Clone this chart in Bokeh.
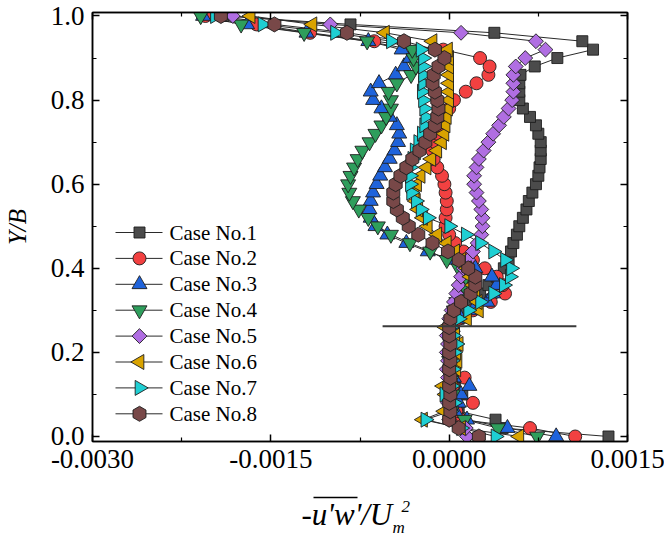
import math
from bokeh.plotting import figure
from bokeh.layouts import column
from bokeh.models import (Range1d, LinearAxis, FixedTicker, PrintfTickFormatter, ColumnDataSource)
from bokeh.core.properties import value
from bokeh.embed import file_html
from bokeh.resources import INLINE

# ---------------- data ----------------
Y = [0.00, 0.02, 0.04, 0.06, 0.08, 0.10, 0.12, 0.14, 0.16, 0.18,
     0.20, 0.22, 0.24, 0.26, 0.28, 0.30, 0.32, 0.34, 0.36, 0.38,
     0.40, 0.42, 0.44, 0.46, 0.48, 0.50, 0.52, 0.54, 0.56, 0.58,
     0.60, 0.62, 0.64, 0.66, 0.68, 0.70, 0.72, 0.74, 0.76, 0.78,
     0.80, 0.82, 0.84, 0.86, 0.88, 0.90, 0.92, 0.94, 0.96, 0.98, 1.00]

case1 = [0.00134, 0.00045, 0.00039, 0.00008, 0.00006, 0.00011, 0.00005, 0.00004, 0.00003, 0.00003,
         0.00002, 0.00002, 0.00003, 0.00004, 0.00008, 0.00013, 0.00019, 0.00026, 0.00033, 0.00040,
         0.00046, 0.00050, 0.00052, 0.00054, 0.00057, 0.00059, 0.00062, 0.00065, 0.00067, 0.00070,
         0.00073, 0.00075, 0.00076, 0.00077, 0.00077, 0.00077, 0.00075, 0.00073, 0.00068, 0.00062,
         0.00059, 0.00059, 0.00059, 0.00060, 0.00072, 0.00091, 0.00121, 0.00112, 0.00038, -0.00083, -0.00190]
case2 = [0.00106, 0.00068, 0.00010, 0.00006, 0.00020, 0.00004, 0.00003, 0.00013, 0.00002, 0.00002,
         0.00001, 0.00001, 0.00002, 0.00003, 0.00008, 0.00020, 0.00035, 0.00047, 0.00045, 0.00040,
         0.00030, 0.00020, 0.00012, 0.00005, 0.00000, -0.00003, -0.00003, -0.00002, -0.00002, -0.00003,
         -0.00004, -0.00006, -0.00010, -0.00013, -0.00014, -0.00012, -0.00010, -0.00007, -0.00004, 0.00000,
         0.00004, 0.00014, 0.00023, 0.00033, 0.00034, 0.00026, -0.00005, -0.00063, -0.00117, -0.00162, -0.00205]
case3 = [0.00090, 0.00049, 0.00015, 0.00005, 0.00008, 0.00010, 0.00017, 0.00004, 0.00002, 0.00001,
         0.00001, 0.00002, 0.00002, 0.00003, 0.00010, 0.00020, 0.00032, 0.00037, 0.00040, 0.00036,
         0.00022, 0.00002, -0.00018, -0.00036, -0.00052, -0.00062, -0.00066, -0.00067, -0.00066, -0.00064,
         -0.00061, -0.00058, -0.00054, -0.00050, -0.00046, -0.00043, -0.00042, -0.00044, -0.00050, -0.00057,
         -0.00064, -0.00066, -0.00059, -0.00045, -0.00038, -0.00033, -0.00040, -0.00068, -0.00120, -0.00170, -0.00207]
case4 = [0.00074, 0.00041, 0.00013, 0.00002, -0.00001, 0.00003, 0.00001, 0.00002, 0.00001, 0.00000,
         0.00002, 0.00001, 0.00002, 0.00001, 0.00003, 0.00004, 0.00006, 0.00009, 0.00012, 0.00014,
         0.00008, -0.00002, -0.00016, -0.00033, -0.00049, -0.00060, -0.00068, -0.00076, -0.00081, -0.00084,
         -0.00085, -0.00083, -0.00080, -0.00077, -0.00073, -0.00067, -0.00062, -0.00057, -0.00053, -0.00049,
         -0.00049, -0.00051, -0.00044, -0.00032, -0.00028, -0.00030, -0.00031, -0.00069, -0.00122, -0.00175, -0.00209]
case5 = [0.00015, 0.00014, 0.00000, -0.00002, -0.00001, -0.00003, -0.00002, -0.00001, -0.00002, -0.00001,
         -0.00002, -0.00001, -0.00002, -0.00001, 0.00000, 0.00002, 0.00004, 0.00006, 0.00008, 0.00010,
         0.00012, 0.00016, 0.00020, 0.00024, 0.00027, 0.00028, 0.00028, 0.00027, 0.00025, 0.00023,
         0.00021, 0.00021, 0.00023, 0.00025, 0.00029, 0.00033, 0.00037, 0.00042, 0.00046, 0.00050,
         0.00053, 0.00054, 0.00054, 0.00054, 0.00056, 0.00064, 0.00081, 0.00073, 0.00010, -0.00100, -0.00182]
case6 = [0.00059, 0.00010, -0.00022, -0.00004, 0.00002, -0.00003, -0.00005, 0.00003, 0.00006, 0.00007,
         0.00006, 0.00008, 0.00005, -0.00003, 0.00015, 0.00025, 0.00024, 0.00022, 0.00020, 0.00018,
         0.00015, 0.00010, 0.00005, -0.00002, -0.00010, -0.00018, -0.00022, -0.00026, -0.00028, -0.00029,
         -0.00027, -0.00024, -0.00019, -0.00015, -0.00010, -0.00006, -0.00004, -0.00003, -0.00002, -0.00001,
         0.00000, 0.00000, 0.00000, 0.00000, 0.00000, 0.00000, -0.00001, -0.00014, -0.00054, -0.00115, -0.00167]
case7 = [0.00039, 0.00010, -0.00020, 0.00001, 0.00004, -0.00004, 0.00002, 0.00001, 0.00003, 0.00002,
         0.00004, 0.00006, 0.00003, 0.00001, 0.00008, 0.00016, 0.00026, 0.00037, 0.00046, 0.00051,
         0.00052, 0.00047, 0.00037, 0.00026, 0.00014, 0.00000, -0.00018, -0.00024, -0.00028, -0.00032,
         -0.00033, -0.00033, -0.00033, -0.00031, -0.00029, -0.00026, -0.00023, -0.00021, -0.00020, -0.00021,
         -0.00022, -0.00023, -0.00022, -0.00022, -0.00022, -0.00022, -0.00024, -0.00049, -0.00096, -0.00157, -0.00197]
case8 = [0.00025, 0.00008, 0.00000, 0.00001, 0.00000, 0.00001, 0.00000, 0.00001, 0.00000, 0.00001,
         0.00000, 0.00001, 0.00000, 0.00000, 0.00001, 0.00004, 0.00010, 0.00018, 0.00022, 0.00022,
         0.00016, 0.00008, -0.00001, -0.00014, -0.00026, -0.00034, -0.00039, -0.00044, -0.00047, -0.00047,
         -0.00045, -0.00041, -0.00036, -0.00031, -0.00025, -0.00020, -0.00016, -0.00012, -0.00010, -0.00009,
         -0.00010, -0.00012, -0.00014, -0.00013, -0.00009, -0.00004, -0.00012, -0.00038, -0.00086, -0.00147, -0.00192]

labels = ["Case No.1", "Case No.2", "Case No.3", "Case No.4",
          "Case No.5", "Case No.6", "Case No.7", "Case No.8"]
series = [case1, case2, case3, case4, case5, case6, case7, case8]

ref_line_x = [-0.00056, 0.00107]
ref_line_y = [0.262, 0.262]

x_ticks = [-0.0030, -0.0015, 0.0, 0.0015]
x_minor = [-0.00225, -0.00075, 0.00075]
y_ticks = [0.0, 0.2, 0.4, 0.6, 0.8, 1.0]
y_minor = [0.1, 0.3, 0.5, 0.7, 0.9]

# ---------------- styles ----------------
colors = ["#4b4b4b", "#f24141", "#1f63db", "#2e9e5c", "#b06ee2", "#d9a300", "#1fcfd3", "#784848"]
markers = ["square", "circle", "triangle", "inverted_triangle", "square", "triangle", "triangle", "hex"]
angles = [0, 0, 0, 0, math.pi / 4, math.pi / 2, -math.pi / 2, math.pi / 2]
sizes = [11, 13, 15, 15, 10.5, 15, 15, 15]

FONT = "Liberation Serif"
BL, BR = 90, 39            # left / right borders
FW, FH = 535, 429          # frame size in px
TOP_H = 484                # height of main figure
BOT_H = 536 - TOP_H        # height of the x-title strip

p = figure(width=664, height=TOP_H, frame_width=FW, frame_height=FH,
           x_range=Range1d(-0.0030, 0.0015), y_range=Range1d(-0.0119, 1.0083),
           output_backend="svg", toolbar_location=None,
           min_border_left=BL, min_border_right=BR, min_border_top=12,
           min_border_bottom=TOP_H - 12 - FH)
p.background_fill_color = "white"
p.border_fill_color = "white"
p.outline_line_color = "black"
p.outline_line_width = 1.5
p.xgrid.visible = False
p.ygrid.visible = False
# pixel-space ranges for the in-frame legend
p.extra_x_ranges = {"px": Range1d(0, FW)}
p.extra_y_ranges = {"px": Range1d(0, FH)}


def style_axis(ax, ticks, minor, fmt, show_labels):
    ax.ticker = FixedTicker(ticks=ticks, minor_ticks=minor)
    ax.formatter = PrintfTickFormatter(format=fmt)
    ax.axis_line_color = "black"
    ax.axis_line_width = 1.5
    ax.major_tick_in = 7
    ax.major_tick_out = 0
    ax.minor_tick_in = 4
    ax.minor_tick_out = 0
    ax.major_tick_line_width = 1.5
    ax.minor_tick_line_width = 1.2
    ax.major_label_text_font = FONT
    if show_labels:
        ax.major_label_text_color = "black"
        ax.major_label_text_font_size = "27px"
        ax.major_label_standoff = 8
    else:
        ax.major_label_text_color = None
        ax.major_label_text_font_size = "1px"
        ax.major_label_standoff = 0


style_axis(p.xaxis[0], x_ticks, x_minor, "%.4f", True)
style_axis(p.yaxis[0], y_ticks, y_minor, "%.1f", True)
ya = p.yaxis[0]
ya.axis_label = "Y/B"
ya.axis_label_text_font = FONT
ya.axis_label_text_font_style = "italic"
ya.axis_label_text_font_size = "25px"
ya.axis_label_standoff = 17
ya.axis_label_text_color = "black"

top_ax = LinearAxis()
right_ax = LinearAxis()
style_axis(top_ax, x_ticks, x_minor, "%.4f", False)
style_axis(right_ax, y_ticks, y_minor, "%.1f", False)
p.add_layout(top_ax, "above")
p.add_layout(right_ax, "right")

# ---------------- data glyphs ----------------
for xs in series:
    p.line(xs, Y, line_color="#2a2a2a", line_width=1)

for xs, c, m, a, s in zip(series, colors, markers, angles, sizes):
    src = ColumnDataSource(dict(x=xs, y=Y))
    p.scatter("x", "y", source=src, marker=m, size=s, angle=a,
              fill_color=c, line_color="#1e1e1e", line_width=0.9)

p.line(ref_line_x, ref_line_y, line_color="#3a3a3a", line_width=2)

# ---------------- legend (drawn in frame-pixel space) ----------------
LEG_TOP, LEG_STEP = 209, 25.9
LEG_X0, LEG_X1, LEG_MX, LEG_TX = 23, 70, 47, 77
leg_y = [LEG_TOP - LEG_STEP * i for i in range(len(labels))]
for yy, c, m, a, s in zip(leg_y, colors, markers, angles, sizes):
    p.line([LEG_X0, LEG_X1], [yy, yy], line_color="#2a2a2a", line_width=1,
           x_range_name="px", y_range_name="px")
    p.scatter([LEG_MX], [yy], marker=m, size=s, angle=a, fill_color=c,
              line_color="#1e1e1e", line_width=0.9, x_range_name="px", y_range_name="px")
p.text([LEG_TX] * len(labels), leg_y, text=labels, text_font=value(FONT),
       text_font_size="21px", text_baseline="middle", text_color="black",
       x_range_name="px", y_range_name="px")

# ---------------- x-axis title strip: -u'w'/U_m^2 with overline ----------------
# frame aligned with the main plot's frame, so x units = page pixels
q = figure(width=664, height=BOT_H, frame_width=FW, frame_height=BOT_H,
           x_range=Range1d(BL, BL + FW), y_range=Range1d(0, BOT_H),
           x_axis_type=None, y_axis_type=None, title=None,
           output_backend="svg", toolbar_location=None,
           min_border=0, min_border_left=BL, min_border_right=BR,
           min_border_top=0, min_border_bottom=0)
q.xgrid.visible = False
q.ygrid.visible = False
q.outline_line_color = None
q.background_fill_color = "white"
q.border_fill_color = "white"

q.text([299], [22], text=["-u'w'/U"], text_font=value(FONT), text_font_style="italic",
       text_font_size="31px", text_baseline="alphabetic", text_color="black")
q.text([390], [9], text=["m"], text_font=value(FONT), text_font_style="italic",
       text_font_size="17px", text_baseline="alphabetic", text_color="black")
q.text([399], [30], text=["2"], text_font=value(FONT), text_font_style="italic",
       text_font_size="17px", text_baseline="alphabetic", text_color="black")
q.segment([311], [39], [355], [39], line_color="black", line_width=1.5)

layout = column(p, q, spacing=0)
open("out.html", "w").write(file_html(layout, INLINE))
